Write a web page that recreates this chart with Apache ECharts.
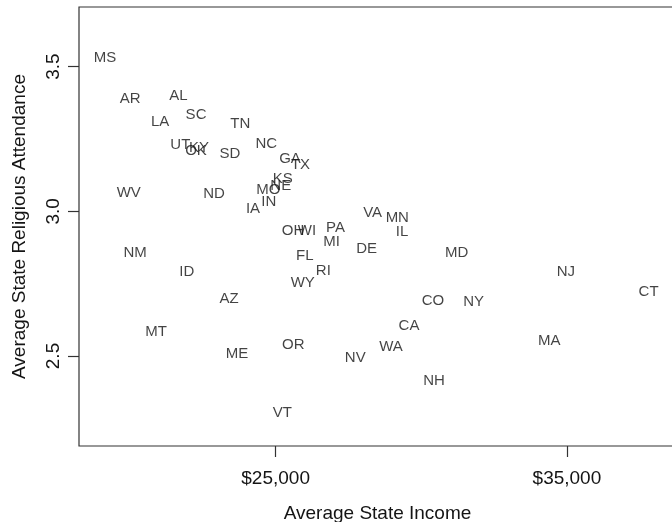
<!DOCTYPE html>
<html>
<head>
<meta charset="utf-8">
<script src="https://cdn.jsdelivr.net/npm/echarts@6/dist/echarts.min.js"></script>
<style>
  html, body { margin: 0; padding: 0; background: #fff; }
  #chart { width: 672px; height: 522px; }
</style>
</head>
<body>
<div id="chart"></div>
<script>
// state abbreviations with income and religious attendance
const states = ['MS', 'AR', 'AL', 'SC', 'LA', 'TN', 'UT', 'KY', 'OK', 'SD', 'NC', 'GA', 'TX', 'KS', 'MO', 'NE',
  'WV', 'ND', 'IN', 'IA', 'OH', 'WI', 'PA', 'MI', 'VA', 'MN', 'IL', 'DE', 'MD', 'NM', 'FL', 'ID',
  'RI', 'NJ', 'WY', 'CT', 'AZ', 'CO', 'NY', 'CA', 'MT', 'MA', 'OR', 'WA', 'ME', 'NV', 'NH', 'VT']
const income = [19145, 20003, 21661, 22268, 21033, 23789, 21729, 22371, 22268, 23435, 24677, 25494, 25855, 25244, 24749, 25175,
  19958, 22886, 24763, 24224, 25597, 26078, 27056, 26925, 28332, 29177, 29338, 28127, 31215, 20175, 25999, 21949,
  26637, 34967, 25930, 37805, 23401, 30402, 31799, 29578, 20895, 34393, 25607, 28961, 23675, 27735, 30436, 25230]
const attendance = [3.538, 3.396, 3.405, 3.341, 3.315, 3.308, 3.235, 3.227, 3.215, 3.207, 3.239, 3.188, 3.169, 3.118, 3.080, 3.094,
  3.071, 3.068, 3.040, 3.016, 2.940, 2.940, 2.949, 2.902, 3.001, 2.983, 2.936, 2.878, 2.865, 2.865, 2.853, 2.798,
  2.802, 2.796, 2.761, 2.729, 2.703, 2.698, 2.694, 2.611, 2.589, 2.560, 2.546, 2.540, 2.516, 2.502, 2.421, 2.309]
const xTicks = [25000, 35000]
const yTicks = [2.5, 3.0, 3.5]

const font = 'Liberation Sans, Arial, Helvetica, sans-serif'
const ink = '#141414'

const chart = echarts.init(document.getElementById('chart'))

const points = states.map((s, i) => [income[i], attendance[i], s])

chart.setOption({
  animation: false,
  grid: {
    left: 79,
    top: 7,
    width: 597, // right border falls just outside the canvas
    height: 439,
    outerBoundsMode: 'none',
    containLabel: false,
    show: true,
    borderColor: '#333',
    borderWidth: 1.2,
    backgroundColor: 'transparent'
  },
  xAxis: {
    type: 'value',
    min: 18250,
    max: 38745,
    name: 'Average State Income',
    nameLocation: 'middle',
    nameGap: 58,
    nameTextStyle: { fontFamily: font, fontSize: 19, color: ink },
    axisLine: { show: false },
    splitLine: { show: false },
    axisTick: {
      show: true,
      length: 11,
      customValues: xTicks,
      lineStyle: { color: '#333', width: 1.2 }
    },
    axisLabel: {
      customValues: xTicks,
      margin: 23,
      fontFamily: font,
      fontSize: 19,
      color: ink,
      formatter: v => '$' + v.toLocaleString('en-US')
    }
  },
  yAxis: {
    type: 'value',
    min: 2.189,
    max: 3.706,
    name: 'Average State Religious Attendance',
    nameLocation: 'middle',
    nameGap: 50,
    nameTextStyle: { fontFamily: font, fontSize: 19, color: ink },
    axisLine: { show: false },
    splitLine: { show: false },
    axisTick: {
      show: true,
      length: 11,
      customValues: yTicks,
      lineStyle: { color: '#333', width: 1.2 }
    },
    axisLabel: {
      customValues: yTicks,
      rotate: 90,
      margin: 16,
      fontFamily: font,
      fontSize: 19,
      color: ink,
      formatter: v => v.toFixed(1)
    }
  },
  series: [
    {
      type: 'scatter',
      symbolSize: 1,
      itemStyle: { color: 'transparent' },
      label: {
        show: true,
        position: 'inside',
        offset: [0, 2],
        fontFamily: font,
        fontSize: 15,
        color: ink,
        formatter: p => p.data[2]
      },
      data: points
    }
  ]
})
</script>
</body>
</html>
